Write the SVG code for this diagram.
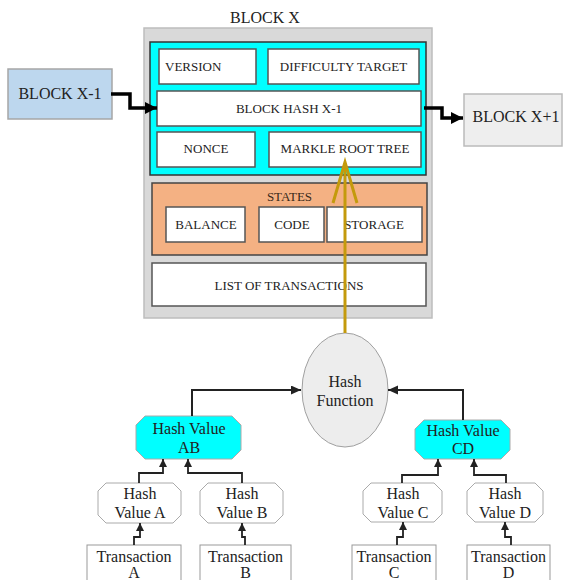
<svg xmlns="http://www.w3.org/2000/svg" width="564" height="580" viewBox="0 0 564 580" font-family="'Liberation Serif', Tinos, 'Times New Roman', 'DejaVu Serif', serif">
<defs>
<style>
text{fill:#222;}
.s13{font-size:13px;}
.s16{font-size:16px;}
.mid{text-anchor:middle;}
.field{fill:#fff;stroke:#555;stroke-width:1.5;}
.hv{fill:#fff;stroke:#aaa;stroke-width:1;}
.cy{fill:#00ffff;stroke:#aaa;stroke-width:1;}
.tx{fill:#fff;stroke:#999;stroke-width:1;}
.thick{fill:none;stroke:#000;stroke-width:3.5;marker-end:url(#bigArrow);}
.conn{fill:none;stroke:#222;stroke-width:2;marker-end:url(#midArrow);}
.small{fill:none;stroke:#222;stroke-width:1.8;marker-end:url(#smallArrow);}
.gold{fill:none;stroke:#c49a0c;stroke-width:3;}
</style>
<marker id="bigArrow" markerUnits="userSpaceOnUse" markerWidth="14" markerHeight="14" refX="12" refY="6" orient="auto"><path d="M0,0 L12,6 L0,12 Z" fill="#000"/></marker>
<marker id="midArrow" markerUnits="userSpaceOnUse" markerWidth="12" markerHeight="12" refX="10" refY="4.5" orient="auto"><path d="M0,0 L10,4.5 L0,9 Z" fill="#222"/></marker>
<marker id="smallArrow" markerUnits="userSpaceOnUse" markerWidth="10" markerHeight="10" refX="8" refY="4" orient="auto"><path d="M0,0 L8,4 L0,8 Z" fill="#222"/></marker>
</defs>

<text class="s16 mid" x="265" y="23">BLOCK X</text>

<g id="blockX">
<rect x="144" y="28" width="288" height="290" fill="#d9d9d9" stroke="#bdbdbd" stroke-width="1.5"/>
</g>

<g id="header">
<rect x="150" y="42" width="276" height="133" fill="#00ffff" stroke="#333" stroke-width="1.5"/>
</g>
<g id="version"><rect class="field" x="159" y="49" width="97" height="35"/><text class="s13" x="165" y="71">VERSION</text></g>
<g id="difficulty"><rect class="field" x="268" y="49" width="151" height="35"/><text class="s13 mid" x="343.5" y="71">DIFFICULTY TARGET</text></g>
<g id="blockHash"><rect class="field" x="157" y="91" width="264" height="35"/><text class="s13 mid" x="289" y="113">BLOCK HASH X-1</text></g>
<g id="nonce"><rect class="field" x="157" y="132" width="98" height="35"/><text class="s13 mid" x="206" y="153">NONCE</text></g>
<g id="merkle"><rect class="field" x="269" y="132" width="152" height="35"/><text class="s13 mid" x="345" y="153">MARKLE ROOT TREE</text></g>

<g id="states">
<rect x="152" y="183" width="275" height="72" fill="#f4b183" stroke="#444" stroke-width="1.5"/>
<text class="s13 mid" x="289.5" y="200.5" style="fill:#3a2a1a">STATES</text>
</g>
<g id="balance"><rect class="field" x="166" y="207" width="79" height="35"/><text class="s13 mid" x="206" y="228.5">BALANCE</text></g>
<g id="code"><rect class="field" x="259" y="207" width="65" height="35"/><text class="s13 mid" x="292" y="228.5">CODE</text></g>
<g id="storage"><rect class="field" x="327" y="207" width="95" height="35"/><text class="s13 mid" x="374" y="228.5">STORAGE</text></g>
<g id="txList"><rect class="field" x="152" y="263" width="274" height="43"/><text class="s13 mid" x="289" y="289.5">LIST OF TRANSACTIONS</text></g>

<g id="blockXminus1">
<rect x="8" y="69" width="104" height="50" fill="#bdd7ee" stroke="#a6a6a6" stroke-width="1.5"/>
<text class="s16 mid" x="60" y="99">BLOCK X-1</text>
</g>
<g id="blockXplus1">
<rect x="464" y="94" width="98" height="52" fill="#eeeeee" stroke="#bbb" stroke-width="1.5"/>
<text class="s16 mid" x="516" y="122">BLOCK X+1</text>
</g>

<g id="hashFunction">
<ellipse cx="345" cy="390" rx="43" ry="57" fill="#ededed" stroke="#a0a0a0" stroke-width="1"/>
<text class="s16 mid" x="345" y="386.5">Hash</text>
<text class="s16 mid" x="345" y="405.5">Function</text>
</g>

<g id="hashAB">
<path class="cy" d="M145,416 H232 L241,425 V450 L232,459 H145 L136,450 V425 Z"/>
<text class="s16 mid" x="189" y="433.5">Hash Value</text>
<text class="s16 mid" x="189" y="452.5">AB</text>
</g>
<g id="hashCD">
<path class="cy" d="M424,420 H501 L510,429 V450 L501,459 H424 L415,450 V429 Z"/>
<text class="s16 mid" x="463" y="435.5">Hash Value</text>
<text class="s16 mid" x="463" y="453.5">CD</text>
</g>

<g id="hashA">
<path class="hv" d="M106,483 H173 L181,491 V515 L173,523 H106 L98,515 V491 Z"/>
<text class="s16 mid" x="140" y="498.5">Hash</text>
<text class="s16 mid" x="140" y="517.5">Value A</text>
</g>
<g id="hashB">
<path class="hv" d="M208,483 H275 L283,491 V515 L275,523 H208 L200,515 V491 Z"/>
<text class="s16 mid" x="242" y="498.5">Hash</text>
<text class="s16 mid" x="242" y="517.5">Value B</text>
</g>
<g id="hashC">
<path class="hv" d="M371,483 H434 L442,491 V514 L434,522 H371 L363,514 V491 Z"/>
<text class="s16 mid" x="403" y="498.5">Hash</text>
<text class="s16 mid" x="403" y="517.5">Value C</text>
</g>
<g id="hashD">
<path class="hv" d="M475,483 H535 L543,491 V514 L535,522 H475 L467,514 V491 Z"/>
<text class="s16 mid" x="505" y="498.5">Hash</text>
<text class="s16 mid" x="505" y="517.5">Value D</text>
</g>

<g id="txA"><rect class="tx" x="87" y="545" width="94" height="45"/><text class="s16 mid" x="134" y="561.5">Transaction</text><text class="s16 mid" x="134" y="578">A</text></g>
<g id="txB"><rect class="tx" x="200" y="545" width="91" height="45"/><text class="s16 mid" x="245.5" y="561.5">Transaction</text><text class="s16 mid" x="245.5" y="578">B</text></g>
<g id="txC"><rect class="tx" x="352" y="545" width="84" height="45"/><text class="s16 mid" x="394" y="561.5">Transaction</text><text class="s16 mid" x="394" y="578">C</text></g>
<g id="txD"><rect class="tx" x="467" y="545" width="83" height="45"/><text class="s16 mid" x="508.5" y="561.5">Transaction</text><text class="s16 mid" x="508.5" y="578">D</text></g>

<g id="connectors">
<path class="thick" d="M111,94 H130 V108 H157"/>
<path class="thick" d="M424,108 H442 V118 H463"/>
<path class="gold" d="M345,333 V163"/>
<path class="gold" d="M333,203 L345,162 L357,203"/>
<path class="conn" d="M192,416 V390 H301"/>
<path class="conn" d="M463,420 V390 H388"/>
<path class="small" d="M139,483 V473 H163 V459"/>
<path class="small" d="M242,483 V473 H188 V459"/>
<path class="small" d="M402,483 V475 H438 V459"/>
<path class="small" d="M506,483 V475 H474 V459"/>
<path class="small" d="M134,545 V537 H140 V523"/>
<path class="small" d="M245,545 V537 H242 V523"/>
<path class="small" d="M397,545 V537 H403 V522"/>
<path class="small" d="M511,545 V537 H505 V522"/>
</g>
</svg>
